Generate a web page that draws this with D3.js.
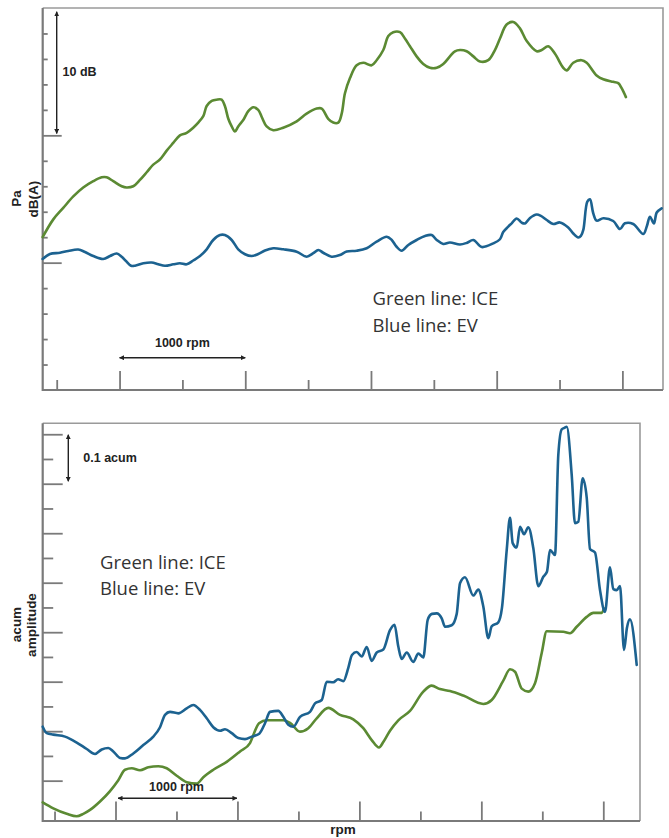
<!DOCTYPE html>
<html>
<head>
<meta charset="utf-8">
<script src="https://cdn.jsdelivr.net/npm/d3@7"></script>
<style>
  body { margin: 0; background: #fff; }
  svg { display: block; }
</style>
</head>
<body>
<script>
// ---- Sound pressure level vs engine speed (upper panel) ----
const splIceRpm = [388,473,552,632,711,791,858,897,950,1017,1056,1109,1162,1216,1268,1321,1375,1427,1480,1534,1586,1626,1666,1693,1733,1772,1812,1838,1865,1892,1918,1944,1984,2024,2064,2103,2133,2170,2223,2302,2409,2488,2568,2608,2660,2700,2740,2767,2793,2833,2886,2939,3005,3045,3098,3138,3177,3231,3270,3310,3363,3416,3469,3523,3575,3628,3668,3708,3761,3814,3867,3933,3986,4026,4079,4132,4185,4239,4318,4358,4410,4464,4530,4557,4609,4676,4716,4795,4848,4927,4967,4994,5028];
const splIceDb = [42.0,43.4,44.3,45.2,45.9,46.4,46.7,46.7,46.4,46.0,45.9,46.0,46.5,47.1,47.7,48.1,48.8,49.4,50.0,50.2,50.6,51.0,51.5,52.3,52.7,52.8,52.8,52.3,51.3,50.7,50.3,50.7,51.2,51.9,52.2,52.0,51.4,50.7,50.4,50.6,51.1,51.7,52.1,52.1,51.3,51.0,51.0,51.7,53.3,54.5,55.5,55.7,55.5,55.9,56.7,57.8,58.1,58.1,57.6,57.0,56.2,55.6,55.3,55.3,55.6,56.2,56.6,56.7,56.6,56.2,55.8,55.9,56.7,57.6,58.7,58.9,58.4,57.4,56.6,56.7,57.0,56.4,55.3,55.1,55.7,55.9,55.7,54.7,54.4,54.2,54.1,53.7,53.0];

const splEvRpm = [388,446,526,592,671,725,791,870,924,977,1017,1051,1091,1123,1189,1255,1308,1361,1427,1480,1534,1586,1640,1693,1745,1799,1838,1892,1944,1998,2051,2103,2157,2223,2302,2409,2488,2541,2581,2620,2687,2753,2807,2886,2966,3045,3125,3165,3204,3244,3297,3363,3430,3483,3523,3575,3628,3708,3761,3814,3881,3973,4026,4052,4092,4119,4159,4199,4225,4265,4318,4352,4398,4450,4503,4569,4609,4649,4670,4689,4721,4742,4768,4795,4848,4927,4981,5020,5086,5166,5195,5219,5251,5273,5312];
const splEvDb = [40.29,40.68,40.78,40.92,41.03,40.84,40.52,40.29,40.52,40.72,40.47,40.13,39.76,39.76,39.95,40.01,39.87,39.76,39.87,39.95,39.87,40.17,40.52,41.05,41.78,42.17,42.17,41.78,41.05,40.66,40.52,40.68,40.96,41.13,41.05,40.86,40.47,40.74,41.00,40.78,40.47,40.60,40.88,40.94,41.13,41.65,42.04,41.78,41.25,40.94,41.39,41.78,42.10,42.17,41.78,41.47,41.58,41.43,41.55,41.78,41.23,41.52,41.84,42.41,42.83,43.09,43.47,43.14,43.08,43.51,43.78,43.67,43.35,43.04,43.16,42.76,42.29,41.98,42.10,42.57,44.79,44.98,43.88,43.30,43.49,43.27,42.64,43.09,43.04,42.25,42.88,43.61,43.08,43.94,44.27];

// ---- Loudness vs engine speed (lower panel) ----
const acumIceRpm = [403,490,600,682,736,791,873,955,1023,1078,1133,1201,1269,1351,1420,1502,1584,1666,1720,1802,1912,2021,2103,2136,2177,2240,2376,2431,2513,2581,2650,2745,2841,2950,3032,3101,3161,3196,3251,3319,3415,3524,3593,3661,3743,3852,4016,4085,4180,4235,4276,4331,4385,4440,4495,4536,4672,4727,4782,4864,4918,4987,5006];
const acumIceAmp = [0.106,0.094,0.083,0.078,0.083,0.091,0.108,0.129,0.151,0.172,0.175,0.171,0.177,0.179,0.175,0.160,0.147,0.144,0.157,0.172,0.188,0.209,0.226,0.246,0.266,0.272,0.272,0.267,0.249,0.256,0.276,0.297,0.283,0.274,0.256,0.232,0.217,0.228,0.251,0.272,0.291,0.330,0.342,0.335,0.331,0.322,0.305,0.313,0.352,0.375,0.370,0.336,0.330,0.347,0.408,0.452,0.451,0.448,0.461,0.481,0.489,0.489,0.498];

const acumEvRpm = [403,436,490,586,682,764,832,887,941,982,1037,1078,1146,1228,1310,1365,1406,1447,1515,1584,1638,1693,1748,1802,1857,1898,1953,2007,2062,2117,2179,2226,2267,2335,2376,2417,2458,2513,2595,2636,2691,2732,2786,2825,2868,2909,2939,2978,3019,3060,3101,3142,3196,3251,3288,3319,3347,3388,3442,3483,3524,3560,3595,3634,3675,3702,3757,3798,3825,3866,3934,3975,4016,4057,4085,4139,4169,4208,4235,4257,4290,4317,4350,4385,4426,4467,4508,4538,4563,4604,4631,4659,4682,4700,4741,4768,4795,4831,4864,4891,4932,4973,5014,5055,5082,5110,5137,5170,5194,5219,5274];
const acumEvAmp = [0.259,0.246,0.243,0.239,0.227,0.214,0.204,0.213,0.216,0.209,0.196,0.195,0.205,0.222,0.239,0.258,0.283,0.289,0.286,0.296,0.303,0.293,0.276,0.258,0.251,0.254,0.246,0.236,0.234,0.239,0.245,0.266,0.289,0.291,0.279,0.263,0.259,0.279,0.289,0.306,0.313,0.350,0.349,0.355,0.351,0.378,0.404,0.410,0.401,0.420,0.392,0.409,0.415,0.454,0.465,0.421,0.396,0.409,0.390,0.407,0.399,0.475,0.487,0.488,0.478,0.461,0.464,0.487,0.549,0.561,0.524,0.536,0.502,0.438,0.462,0.470,0.499,0.616,0.681,0.630,0.621,0.663,0.648,0.662,0.620,0.543,0.562,0.572,0.616,0.606,0.808,0.860,0.863,0.865,0.768,0.670,0.673,0.761,0.722,0.618,0.611,0.535,0.491,0.581,0.537,0.535,0.543,0.414,0.459,0.476,0.384];

// Tick positions (the panels carry no numeric tick labels)
const rpmTicks = [500,1000,1500,2000,2500,3000,3500,4000,4500,5000];
const dbTicks = [32,34,36,38,40,42,44,46,48,50,52,54,56,58];
const dbLongTicks = [40,50];
const acumTicks = [0.15,0.20,0.25,0.30,0.35,0.40,0.45,0.50,0.55,0.60,0.65,0.70,0.75,0.80,0.85];

const seriesNames = ["Green line: ICE", "Blue line: EV"];

const W = 669, H = 838;
const GREEN = "#5b8a33", BLUE = "#1c6290";
const AXIS = "#7a7a7a", FRAME = "#9a9a9a", INK = "#222";
const BOLD = "'Liberation Sans', Arial, Helvetica, sans-serif";
const LEGEND_FONT = "'Open Sans', 'Noto Sans', sans-serif";

const svg = d3.select("body").append("svg").attr("width", W).attr("height", H);

const defs = svg.append("defs");
defs.append("marker")
  .attr("id", "arrowhead")
  .attr("viewBox", "0 0 10 10")
  .attr("refX", 9).attr("refY", 5)
  .attr("markerWidth", 5).attr("markerHeight", 5)
  .attr("markerUnits", "userSpaceOnUse")
  .attr("orient", "auto-start-reverse")
  .append("path").attr("d", "M0,0 L10,5 L0,10 Z").attr("fill", INK);

function panel(opt) {
  const { left, right, top, bottom, xDomain, yDomain } = opt;
  const x = d3.scaleLinear().domain(xDomain).range([left, right]);
  const y = d3.scaleLinear().domain(yDomain).range([bottom, top]);
  const g = svg.append("g");

  // frame: light top/right, darker axis lines left/bottom
  g.append("path").attr("d", `M${left},${top}H${right}V${bottom}`)
    .attr("fill", "none").attr("stroke", FRAME).attr("stroke-width", 1.6);

  // y ticks (pointing into the plot)
  const yShort = opt.yTicks.filter(v => !opt.isLongY(v));
  const yLong = opt.yTicks.filter(v => opt.isLongY(v));
  const yAxisShort = d3.axisLeft(y).tickValues(yShort).tickSize(-opt.yShortLen).tickFormat("");
  const yAxisLong = d3.axisLeft(y).tickValues(yLong).tickSize(-opt.yLongLen).tickFormat("");
  [yAxisShort, yAxisLong].forEach(ax => {
    const a = g.append("g").attr("transform", `translate(${left},0)`).call(ax);
    a.select(".domain").remove();
    a.selectAll("line").attr("stroke", AXIS).attr("stroke-width", 1.8);
  });

  // x ticks (pointing up into the plot)
  const xShort = opt.xTicks.filter(v => v % 1000 !== 0);
  const xLong = opt.xTicks.filter(v => v % 1000 === 0);
  const xAxisShort = d3.axisBottom(x).tickValues(xShort).tickSize(-opt.xShortLen).tickFormat("");
  const xAxisLong = d3.axisBottom(x).tickValues(xLong).tickSize(-opt.xLongLen).tickFormat("");
  [xAxisShort, xAxisLong].forEach(ax => {
    const a = g.append("g").attr("transform", `translate(0,${bottom})`).call(ax);
    a.select(".domain").remove();
    a.selectAll("line").attr("stroke", AXIS).attr("stroke-width", 1.8);
  });

  g.append("path").attr("d", `M${left},${top}V${bottom}H${right}`)
    .attr("fill", "none").attr("stroke", AXIS).attr("stroke-width", 2.2);

  // data lines
  const line = d3.line().x(d => x(d[0])).y(d => y(d[1])).curve(opt.curve);
  opt.series.forEach(s => {
    g.append("path")
      .datum(d3.zip(s.rpm, s.val))
      .attr("d", line)
      .attr("fill", "none")
      .attr("stroke", s.color)
      .attr("stroke-width", 2.6)
      .attr("stroke-linejoin", "round")
      .attr("stroke-linecap", "round");
  });

  return { x, y, g };
}

function arrow(g, x1, y1, x2, y2) {
  g.append("line")
    .attr("x1", x1).attr("y1", y1).attr("x2", x2).attr("y2", y2)
    .attr("stroke", INK).attr("stroke-width", 1.4)
    .attr("marker-start", "url(#arrowhead)")
    .attr("marker-end", "url(#arrowhead)");
}

function boldText(g, txt, x, y, size, anchor = "start", rotate = false) {
  const t = g.append("text")
    .attr("font-family", BOLD).attr("font-weight", 700)
    .attr("font-size", size).attr("fill", INK)
    .attr("text-anchor", anchor).text(txt);
  if (rotate) t.attr("transform", `translate(${x},${y}) rotate(-90)`);
  else t.attr("x", x).attr("y", y);
  return t;
}

function legend(g, x, y, gap) {
  seriesNames.forEach((name, i) => {
    g.append("text")
      .attr("x", x).attr("y", y + i * gap)
      .attr("font-family", LEGEND_FONT)
      .attr("font-size", 18.5)
      .attr("fill", "#333")
      .text(name);
  });
}

// ---------- Upper panel: Pa dB(A) ----------
const P1 = panel({
  left: 42.7, right: 663, top: 8, bottom: 390,
  xDomain: [388.6, 5323], yDomain: [30, 60],
  xTicks: rpmTicks, yTicks: dbTicks,
  isLongY: v => dbLongTicks.includes(v),
  yShortLen: 5, yLongLen: 19, xShortLen: 10, xLongLen: 19,
  curve: d3.curveCatmullRom.alpha(0.5),
  series: [
    { rpm: splIceRpm, val: splIceDb, color: GREEN },
    { rpm: splEvRpm, val: splEvDb, color: BLUE }
  ]
});
// 10 dB scale bar
arrow(P1.g, P1.x(500), P1.y(59.7), P1.x(500), P1.y(50.15));
boldText(P1.g, "10 dB", 62.5, 76, 12.5);
// 1000 rpm scale bar
arrow(P1.g, P1.x(1000), 357.7, P1.x(2000), 357.7);
boldText(P1.g, "1000 rpm", (P1.x(1000) + P1.x(2000)) / 2, 347.3, 12.5, "middle");
// axis name
boldText(P1.g, "Pa", 20.5, 198.5, 13.5, "middle", true);
boldText(P1.g, "dB(A)", 37.5, 199, 13.5, "middle", true);
legend(P1.g, 372.5, 305, 26.5);

// ---------- Lower panel: acum amplitude ----------
const P2 = panel({
  left: 42.7, right: 640, top: 423.3, bottom: 821,
  xDomain: [403, 5301], yDomain: [0.0685, 0.8721],
  xTicks: rpmTicks, yTicks: acumTicks,
  isLongY: v => acumTicks.indexOf(v) % 2 === 0,
  yShortLen: 10.5, yLongLen: 20, xShortLen: 9.5, xLongLen: 19.5,
  curve: d3.curveMonotoneX,
  series: [
    { rpm: acumIceRpm, val: acumIceAmp, color: GREEN },
    { rpm: acumEvRpm, val: acumEvAmp, color: BLUE }
  ]
});
// 0.1 acum scale bar
arrow(P2.g, 68.3, P2.y(0.85) + 0.5, 68.3, P2.y(0.75) - 2.5);
boldText(P2.g, "0.1 acum", 83.3, 462.3, 12.5);
// 1000 rpm scale bar
arrow(P2.g, P2.x(1000) + 2.5, 798.3, P2.x(2000) - 0.5, 798.3);
boldText(P2.g, "1000 rpm", 176.5, 790.7, 12.5, "middle");
// axis names
boldText(P2.g, "acum", 20.5, 624.5, 13.5, "middle", true);
boldText(P2.g, "amplitude", 35.5, 625, 13.5, "middle", true);
boldText(P2.g, "rpm", 343, 834, 13.5, "middle");
legend(P2.g, 100, 569, 26);
</script>
</body>
</html>
